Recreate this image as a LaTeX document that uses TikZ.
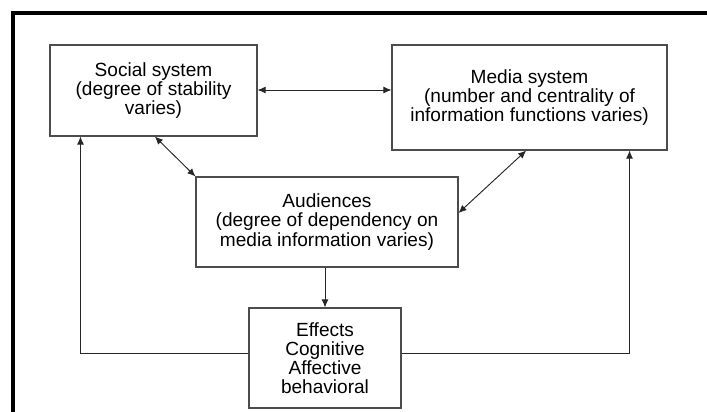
\documentclass[tikz,border=0pt]{standalone}
\usepackage{fontspec}
\setmainfont{Liberation Sans}
\usetikzlibrary{arrows.meta,calc}
\begin{document}
\begin{tikzpicture}[x=0.75pt,y=-0.75pt,
  box/.style={draw=black!70,line width=0.8pt,align=center,inner sep=0pt,
    font=\fontsize{14.3}{14.4}\selectfont},
  conn/.style={draw=black!85,line width=0.7pt},
  tip/.style={-{Latex[length=6pt,width=5.2pt]}},
  tips/.style={{Latex[length=6pt,width=5.2pt]}-{Latex[length=6pt,width=5.2pt]}}]
\useasboundingbox (0,0) rectangle (707,411);
\draw[line width=2.6pt] (13,430) -- (13,13) -- (720,13);
\node[box,minimum width=155.25pt,minimum height=68.25pt] (soc) at (153.5,90.5)
  {Social system\\(degree of stability\\varies)};
\node[box,minimum width=206.25pt,minimum height=78.75pt] (med) at (529.5,97.5)
  {Media system\\(number and centrality of\\information functions varies)};
\node[box,minimum width=196.5pt,minimum height=67.5pt] (aud) at (327,222)
  {Audiences\\(degree of dependency on\\media information varies)};
\node[box,minimum width=114pt,minimum height=75pt] (eff) at (325,358)
  {Effects\\Cognitive\\Affective\\behavioral};
\coordinate (effL) at ([yshift=3.75pt]eff.west);
\coordinate (effR) at ([yshift=3.75pt]eff.east);
\coordinate (socB) at ([xshift=23.25pt]soc.south west);
\coordinate (medB) at ([xshift=-28.5pt]med.south east);
\draw[conn,tips] (soc.east |- 0,90) -- (med.west |- 0,90);
\draw[conn,tips] ([xshift=1pt]soc.south) -- (aud.north west);
\draw[conn,tips] ([xshift=-2.5pt]med.south) -- ([yshift=6.75pt]aud.east);
\draw[conn,tip] (eff.north |- aud.south) -- (eff.north);
\draw[conn,tip] (effL) -| (socB);
\draw[conn,tip] (effR) -| (medB);
\end{tikzpicture}
\end{document}
